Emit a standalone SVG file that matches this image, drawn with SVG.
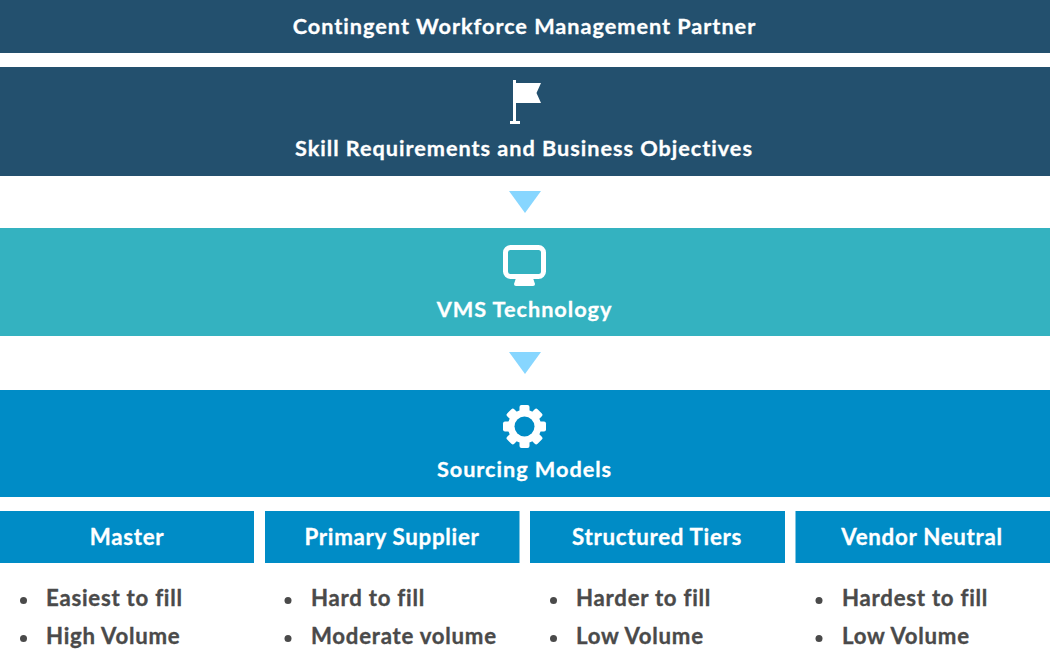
<svg xmlns="http://www.w3.org/2000/svg" width="1050" height="662" viewBox="0 0 1050 662">
<style>
text{font-family:"Lato","Liberation Sans",sans-serif;font-weight:700}
.t{fill:#fff;stroke:#fff;stroke-width:.3px;font-size:21.7px;text-anchor:middle;letter-spacing:.97px}
.h{fill:#fff;stroke:#fff;stroke-width:.3px;font-size:22.3px;text-anchor:middle;letter-spacing:.7px}
.l{fill:#4a4a4a;stroke:#4a4a4a;stroke-width:.35px;font-size:22.2px;letter-spacing:.75px}
.b{fill:#4a4a4a}
.navy{fill:#23506e}
.box{fill:#008cc6}
.arr{fill:#87d6ff}
</style>
<rect width="1050" height="662" fill="#fff"/>
<g id="partner"><rect class="navy" width="1050" height="53"/><text class="t" x="524.500" y="34">Contingent Workforce Management Partner</text></g>
<g id="skills"><rect class="navy" y="67" width="1050" height="109"/>
<path fill="#fff" d="M513 80h3v3h25l-4.500 10 4.500 10h-25v18h4v3h-10v-3h3z"/>
<text class="t" x="524" y="156">Skill Requirements and Business Objectives</text></g>
<g id="vms"><rect fill="#34b2c0" y="228" width="1050" height="108"/>
<rect x="505.500" y="247.500" width="38" height="29" rx="5" fill="none" stroke="#fff" stroke-width="5"/>
<path fill="#fff" d="M516 278h17l2 6q0 2-2 2h-17q-2 0-2-2z"/>
<text class="t" x="524.500" y="317">VMS Technology</text></g>
<g id="sourcing"><rect class="box" y="390" width="1050" height="107"/>
<g fill="#fff"><rect x="519.500" y="405" width="10" height="43" rx="2"/><rect x="519.500" y="405" width="10" height="43" rx="2" transform="rotate(45 524.500 426.500)"/><rect x="519.500" y="405" width="10" height="43" rx="2" transform="rotate(90 524.500 426.500)"/><rect x="519.500" y="405" width="10" height="43" rx="2" transform="rotate(135 524.500 426.500)"/></g>
<circle cx="524.500" cy="426.500" r="13.500" fill="none" stroke="#fff" stroke-width="6.500"/>
<circle cx="524.500" cy="426.500" r="10" class="box"/>
<text class="t" x="524.500" y="477">Sourcing Models</text></g>
<g id="connectors"><path class="arr" d="M509 191h32l-16 22z"/><path class="arr" d="M509 352h32l-16 22z"/></g>
<g id="master"><rect class="box" y="511" width="254" height="52"/><text class="h" x="127" y="545">Master</text>
<circle class="b" cx="23.500" cy="600.500" r="3.500"/><text class="l" x="46" y="606">Easiest to fill</text>
<circle class="b" cx="23.500" cy="638.500" r="3.500"/><text class="l" x="46" y="644">High Volume</text></g>
<g id="primary"><rect class="box" x="265" y="511" width="254.500" height="52"/><text class="h" x="392" y="545">Primary Supplier</text>
<circle class="b" cx="288" cy="600.500" r="3.500"/><text class="l" x="311" y="606">Hard to fill</text>
<circle class="b" cx="288" cy="638.500" r="3.500"/><text class="l" x="311" y="644">Moderate volume</text></g>
<g id="tiers"><rect class="box" x="530" y="511" width="255" height="52"/><text class="h" x="657" y="545">Structured Tiers</text>
<circle class="b" cx="553.500" cy="600.500" r="3.500"/><text class="l" x="576" y="606">Harder to fill</text>
<circle class="b" cx="553.500" cy="638.500" r="3.500"/><text class="l" x="576" y="644">Low Volume</text></g>
<g id="neutral"><rect class="box" x="795.500" y="511" width="254.500" height="52"/><text class="h" x="922" y="545">Vendor Neutral</text>
<circle class="b" cx="819" cy="600.500" r="3.500"/><text class="l" x="842" y="606">Hardest to fill</text>
<circle class="b" cx="819" cy="638.500" r="3.500"/><text class="l" x="842" y="644">Low Volume</text></g>
</svg>
